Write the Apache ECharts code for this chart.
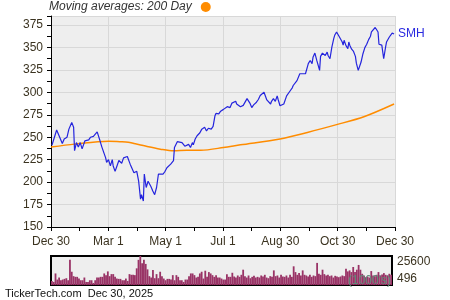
<!DOCTYPE html>
<html>
<head>
<meta charset="utf-8">
<script src="https://cdn.jsdelivr.net/npm/echarts@6/dist/echarts.min.js"></script>
<style>html,body{margin:0;padding:0;background:#fff}#c{width:450px;height:300px}</style>
</head>
<body>
<div id="c"></div>
<script>
// x tick labels (axis in days since Dec 30, 2024)
var xLabels = ["Dec 30", "Mar 1", "May 1", "Jul 1", "Aug 30", "Oct 30", "Dec 30"];

// SMH closing prices
var priceDays = [1,6,8,12,14,17,19,22,24,25,27,29,31,33,36,40,42,45,49,51,52,54,56,58,59,61,63,65,66,68,70,72,74,75,77,79,81,82,84,86,88,89,91,93,95,96,98,99,101,103,104,106,108,110,112,114,116,119,121,123,125,127,128,130,131,132,134,136,139,142,144,146,148,150,151,153,155,158,160,163,165,167,170,172,174,175,178,180,181,183,185,187,189,190,192,194,196,197,199,201,204,206,208,210,211,213,215,217,218,220,222,224,226,227,229,233,234,236,238,240,241,243,245,247,250,254,256,257,259,261,263,264,266,270,272,273,275,277,278,280,282,284,285,286,288,291,293,294,296,298,300,301,303,305,307,309,310,311,313,315,316,317,319,321,323,324,326,328,329,331,333,335,337,339,340,342,344,346,347,348,351,353,355,356,359,362,364];
var prices = [241,258,253,243,248,250,259,266.5,261,235,244,239,244,237,246,247,250,251,256,254,246,239,241,227,222,225,218,225,218,212,218,224,225,221,227,225.5,228.5,228,220,220,210.5,212,212,201,181,186,179,209,194,201,199,195,190,186,194,209,209,209,212,216,214,220,222,224,238.5,240,245,246,244,240,238.5,242,238.5,244,241.5,248,251.6,255,259,261,257,260,259,262,274,276.5,276,279,277,281,280,284,285,283,288,286,290,287,289,284,285.5,287,293,294.5,288,283,286,285.5,289,292,296.4,294.5,300,298,291.5,287,290,293,290,296,292,285,285,287,296,302,305,307.6,306,313,315,320.7,321,320.7,322.5,332,335.5,332,339,343.7,335.5,337,324.4,340,343.7,341,344.8,341,337.4,350.4,359.8,363.5,367.2,363.5,363.5,356,352.5,358,352,348.6,356,352.5,348,345.5,340,332.5,324.4,325,333.7,343,349.8,353.5,358.7,362.5,367.2,368,372.2,373.6,367.2,353.5,352.5,337.4,350.4,356,361.6,366,365];

// 200-day moving average
var maDays = [0,25,61,73,82,88,102,116,130,144,159,183,201,243,272,303,332,364];
var maValues = [239,242.3,245.5,245,244.5,243,239.6,236.7,234.8,235.5,235.5,238.5,241.5,248,255.3,264,272.8,287];

// daily volume (thousands)
var volumes = [3600,2700,10200,4800,6600,4200,4800,5400,6000,4200,22200,11700,7800,7200,7200,5700,4200,4200,6600,2700,2700,4200,4200,1800,4200,6600,6600,7200,7200,10200,8700,12000,7800,9600,9600,7200,5700,5400,5400,4200,4200,5700,3600,9600,9000,9000,8700,14700,22200,25600,19200,22200,18600,13800,7800,6600,13200,6000,9600,6000,11700,7800,5700,4200,5400,5400,4800,8700,4200,8700,7200,4200,4200,2700,4800,4800,7800,10200,10200,8700,6600,7200,10200,11700,5700,12600,7200,11400,10200,8700,7200,8700,6600,6600,5700,4800,4800,9600,7200,7200,10800,
7500,6600,8400,7200,9000,13500,7800,6600,8400,6000,7200,8100,6600,7200,6600,8400,7500,9000,6600,6000,7800,7200,12900,7800,8400,6600,9000,7500,7200,8400,6600,9000,7200,16500,11400,9000,10500,8400,12900,9000,8400,7500,9000,7200,8400,7800,19500,9900,9000,13500,9600,8400,9000,7800,8400,6600,8100,7500,6900,7500,8400,7800,14400,12000,12900,11400,15900,11400,13500,17700,13500,9900,8400,6900,7500,6600,12300,8400,7800,9000,11400,8400,9300,10500,9000,8400,9900,9000];
var volTickLabels = [25600, 496];

var volCategories = volumes.map(function (v, i) { return String(i); });
var priceData = priceDays.map(function (d, i) { return [d, prices[i]]; });
var maData = maDays.map(function (d, i) { return [d, maValues[i]]; });

var txt = '#3b3320';
var font = 'Liberation Sans';
var step = 365 / 6;
var plain = function (v) { return String(v); };

var chart = echarts.init(document.getElementById('c'), null, {renderer: 'canvas'});
chart.setOption({
  animation: false,
  textStyle: {fontFamily: font},
  title: {
    text: 'TickerTech.com  Dec 30, 2025',
    left: 5, top: 288, padding: 0,
    textStyle: {fontSize: 11, fontWeight: 'normal', color: '#111', fontFamily: font}
  },
  graphic: {
    elements: [{
      type: 'text', x: 348, y: 275, z: 100, zlevel: 0, silent: true,
      style: {text: "(1000's)", fill: '#5f8a78', fontSize: 12, fontFamily: font}
    }]
  },
  legend: {
    data: ['Moving averages: 200 Day'],
    left: 49, top: 1, padding: 0,
    align: 'right', icon: 'circle', itemWidth: 10, itemHeight: 10,
    textStyle: {fontSize: 12, fontStyle: 'italic', color: '#333', fontFamily: font, padding: [0, 4, 0, 0]}
  },
  grid: [
    {left: 51, top: 16, right: 55, bottom: 73, show: true, backgroundColor: '#eeeeee', borderWidth: 0},
    {left: 51, top: 256, right: 58, bottom: 15, show: true, backgroundColor: '#eeeeee', borderColor: '#000', borderWidth: 2}
  ],
  xAxis: [
    {
      type: 'value', gridIndex: 0, min: 0, max: 365, interval: step,
      axisLine: {show: true, lineStyle: {color: '#000', width: 1}},
      axisTick: {show: true, length: 4, lineStyle: {color: '#000'}},
      minorTick: {show: true, splitNumber: 2, length: 4, lineStyle: {color: '#000'}},
      splitLine: {show: true, lineStyle: {color: '#d8d8d8', width: 1}},
      axisLabel: {
        color: txt, fontSize: 12, margin: 9, fontFamily: font,
        showMinLabel: true, showMaxLabel: true,
        formatter: function (v) { return xLabels[Math.round(v / step)] || ''; }
      }
    },
    {
      type: 'category', gridIndex: 1, data: volCategories, boundaryGap: true,
      axisLine: {show: false}, axisTick: {show: false}, axisLabel: {show: false}, splitLine: {show: false}
    }
  ],
  yAxis: [
    {
      type: 'value', gridIndex: 0, min: 150, max: 385, interval: 25,
      axisLine: {show: true, lineStyle: {color: '#000', width: 1}},
      axisTick: {show: true, length: 4, lineStyle: {color: '#000'}},
      minorTick: {show: true, splitNumber: 2, length: 4, lineStyle: {color: '#000'}},
      splitLine: {show: true, lineStyle: {color: '#d8d8d8', width: 1}},
      axisLabel: {color: txt, fontSize: 12, margin: 8, fontFamily: font, showMaxLabel: false}
    },
    {
      type: 'value', gridIndex: 1, position: 'right', min: 0, max: 25600,
      axisLine: {show: false}, axisTick: {show: false}, splitLine: {show: false},
      axisLabel: {customValues: [volTickLabels[0]], formatter: plain, verticalAlign: 'top', color: txt, fontSize: 12, margin: 5, fontFamily: font}
    },
    {
      type: 'value', gridIndex: 1, position: 'right', min: 0, max: 25600,
      axisLine: {show: false}, axisTick: {show: false}, splitLine: {show: false},
      axisLabel: {customValues: [volTickLabels[1]], formatter: plain, verticalAlign: 'bottom', color: txt, fontSize: 12, margin: 5, fontFamily: font}
    }
  ],
  series: [
    {
      name: 'Moving averages: 200 Day', type: 'line', xAxisIndex: 0, yAxisIndex: 0,
      data: maData, showSymbol: false, smooth: 0.3,
      itemStyle: {color: '#ff8c00'},
      lineStyle: {color: '#ff8c00', width: 1.5}
    },
    {
      name: 'SMH', type: 'line', xAxisIndex: 0, yAxisIndex: 0,
      data: priceData, showSymbol: false,
      itemStyle: {color: '#2424dd'},
      lineStyle: {color: '#2424dd', width: 1.2},
      endLabel: {show: true, formatter: 'SMH', color: '#2a2ae0', fontSize: 12, fontFamily: font, distance: 4}
    },
    {
      name: 'Volume', type: 'bar', xAxisIndex: 1, yAxisIndex: 1,
      data: volumes, barCategoryGap: '0%',
      itemStyle: {color: '#993366'}
    }
  ]
});
</script>
</body>
</html>
